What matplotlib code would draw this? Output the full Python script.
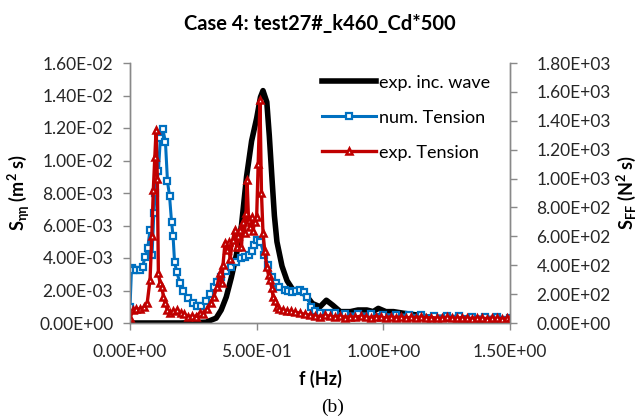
import numpy as np
import matplotlib
matplotlib.use('Agg')
import matplotlib.pyplot as plt

plt.rcParams['font.family'] = ['Lato', 'DejaVu Sans']
plt.rcParams['mathtext.default'] = 'regular'

# exp. inc. wave spectrum (left axis, m^2 s)
f_wave = [0.0, 0.1, 0.2, 0.3, 0.34, 0.36, 0.38, 0.40, 0.42, 0.44, 0.46, 0.48, 0.50,
          0.515, 0.525, 0.54, 0.55, 0.56, 0.57, 0.58, 0.60, 0.62, 0.645, 0.665, 0.68,
          0.70, 0.72, 0.75, 0.775, 0.80, 0.83, 0.87, 0.90, 0.935, 0.96, 0.98, 1.01,
          1.04, 1.08, 1.13, 1.2, 1.3, 1.4, 1.5]
s_wave = [0.0, 0.0, 0.0, 0.00005, 0.0003, 0.0008, 0.0016, 0.0028, 0.0042, 0.0060,
          0.0090, 0.0112, 0.0126, 0.0139, 0.0143, 0.0136, 0.0115, 0.0090, 0.0066,
          0.0050, 0.0035, 0.0026, 0.0020, 0.0021, 0.0019, 0.0016, 0.0012, 0.0010,
          0.0014, 0.0011, 0.0007, 0.0007, 0.0008, 0.0008, 0.0007, 0.0009, 0.0007,
          0.0007, 0.0006, 0.0005, 0.0003, 0.0002, 0.0001, 0.0001]

# num. Tension spectrum (right axis, N^2 s)
f_num = [0.0, 0.006, 0.012, 0.025, 0.04, 0.05, 0.059, 0.07, 0.079, 0.087, 0.094,
         0.10, 0.112, 0.12, 0.13, 0.14, 0.148, 0.156, 0.164, 0.17, 0.176, 0.185,
         0.197, 0.21, 0.23, 0.25, 0.265, 0.28, 0.30, 0.315, 0.33, 0.345, 0.36, 0.38,
         0.40, 0.42, 0.44, 0.455, 0.47, 0.48, 0.49, 0.50, 0.515, 0.53, 0.545, 0.56,
         0.575, 0.59, 0.61, 0.625, 0.64, 0.655, 0.67, 0.685, 0.70, 0.715, 0.73, 0.75,
         0.78, 0.81, 0.85, 0.9, 0.95, 1.0, 1.05, 1.1, 1.15, 1.2, 1.25, 1.3, 1.35, 1.4,
         1.45, 1.5]
s_num = [110, 380, 370, 365, 367, 390, 457, 520, 644, 470, 760,
         900, 1050, 1280, 1340, 1250, 980, 880, 700, 600, 420, 350,
         280, 220, 170, 140, 120, 115, 150, 200, 250, 285, 320, 360,
         390, 420, 450, 460, 470, 500, 540, 575, 560, 470, 400, 320,
         280, 250, 230, 220, 215, 222, 228, 215, 180, 110, 80, 70,
         68, 66, 64, 62, 60, 58, 56, 54, 52, 50, 48, 46, 44, 42,
         40, 38]

# exp. Tension spectrum (right axis, N^2 s)
f_exp = [0.0, 0.012, 0.025, 0.04, 0.055, 0.068, 0.079, 0.086, 0.092, 0.098, 0.103,
         0.108, 0.112, 0.118, 0.126, 0.132, 0.138, 0.148, 0.158, 0.17, 0.185, 0.2,
         0.215, 0.23, 0.245, 0.26, 0.275, 0.29, 0.305, 0.318, 0.33, 0.343, 0.355,
         0.362, 0.367, 0.375, 0.383, 0.39, 0.395, 0.405, 0.414, 0.422, 0.428, 0.434,
         0.44, 0.446, 0.452, 0.458, 0.462, 0.468, 0.474, 0.48, 0.486, 0.492, 0.50,
         0.506, 0.513, 0.519, 0.525, 0.532, 0.54, 0.547, 0.553, 0.56, 0.565, 0.572,
         0.58, 0.59, 0.605, 0.62, 0.635, 0.65, 0.67, 0.69, 0.71, 0.73, 0.75, 0.77,
         0.79, 0.81, 0.83, 0.85, 0.87, 0.89, 0.91, 0.93, 0.95, 0.97, 0.99, 1.01, 1.03,
         1.05, 1.07, 1.09, 1.11, 1.13, 1.15, 1.17, 1.19, 1.21, 1.23, 1.25, 1.27, 1.29,
         1.31, 1.33, 1.35, 1.37, 1.39, 1.41, 1.43, 1.45, 1.47, 1.49, 1.5]
s_exp = [35, 90, 100, 95, 110, 140, 298, 600, 920, 1150, 1336,
         1000, 346, 280, 249, 180, 138, 90, 69, 80, 90, 69,
         60, 42, 50, 45, 69, 60, 100, 140, 180, 249, 346,
         277, 400, 554, 505, 560, 440, 575, 644, 526, 600, 644,
         526, 700, 620, 760, 990, 713, 665, 734, 640, 700, 734,
         1100, 1544, 900, 623, 500, 388, 330, 298, 240, 180, 150,
         111, 100, 90, 85, 80, 75, 69, 60, 55, 50, 45, 52,
         48, 42, 50, 38, 45, 40, 47, 42, 38, 45, 40, 36, 44,
         38, 42, 35, 40, 37, 43, 34, 38, 35, 32, 40, 36, 33,
         38, 34, 31, 36, 33, 30, 35, 32, 30, 33, 30]

fig = plt.figure(figsize=(6.4, 4.16), dpi=100)
ax = fig.add_axes([130/640, 1 - 323/416, 380/640, 260/416])
ax2 = ax.twinx()

l1, = ax.plot(f_wave, s_wave, color='black', lw=4.0, solid_joinstyle='round',
              label='exp. inc. wave')
l2, = ax2.plot(f_num, s_num, color='#0070C0', lw=2.2, marker='s', ms=4.5,
               mfc='white', mec='#0070C0', mew=1.6, label='num. Tension')
l3, = ax2.plot(f_exp, s_exp, color='#C00000', lw=2.4, marker='^', ms=4.8,
               mfc='white', mec='#C00000', mew=1.8, label='exp. Tension')

ax.set_xlim(0, 1.5)
ax.set_ylim(0, 0.016)
ax2.set_ylim(0, 1800)
ax.set_xticks([0, 0.5, 1.0, 1.5])
ax.set_yticks(np.arange(0, 0.0161, 0.002))
ax2.set_yticks(np.arange(0, 1801, 200))
fmt = matplotlib.ticker.FuncFormatter(lambda v, p: f'{v:.2E}')
ax.xaxis.set_major_formatter(fmt)
ax.yaxis.set_major_formatter(fmt)
ax2.yaxis.set_major_formatter(fmt)

gray = '#898989'
for a in (ax, ax2):
    a.spines['top'].set_visible(False)
    for s in ('left', 'right', 'bottom'):
        a.spines[s].set_color(gray)
        a.spines[s].set_linewidth(1.0)
    a.tick_params(colors=gray, labelcolor='#262626', labelsize=12.5, length=5, width=1.0)
ax.tick_params(axis='y', pad=7)
ax2.tick_params(axis='y', pad=14)
ax.tick_params(axis='x', pad=10)

ax.set_title('Case 4: test27#_k460_Cd*500', fontsize=14.5, fontweight='bold', pad=24)
ax.set_xlabel('f (Hz)', fontsize=13, fontweight='bold', labelpad=7)
ax.set_ylabel('S$_{ηη}$ (m$^2$ s)', fontsize=13, fontweight='bold', labelpad=5)
ax2.set_ylabel('S$_{FF}$ (N$^2$ s)', fontsize=13, fontweight='bold', labelpad=3)

ax2.legend(handles=[l1, l2, l3], loc='upper left', bbox_to_anchor=(0.475, 1.0),
           frameon=False, fontsize=13, handlelength=3.0, handletextpad=0.15,
           labelspacing=1.05, borderpad=0.15)

fig.text(0.52, 0.01, '(b)', fontsize=14, family='Liberation Serif', ha='center')

fig.savefig('out.png', dpi=100)
